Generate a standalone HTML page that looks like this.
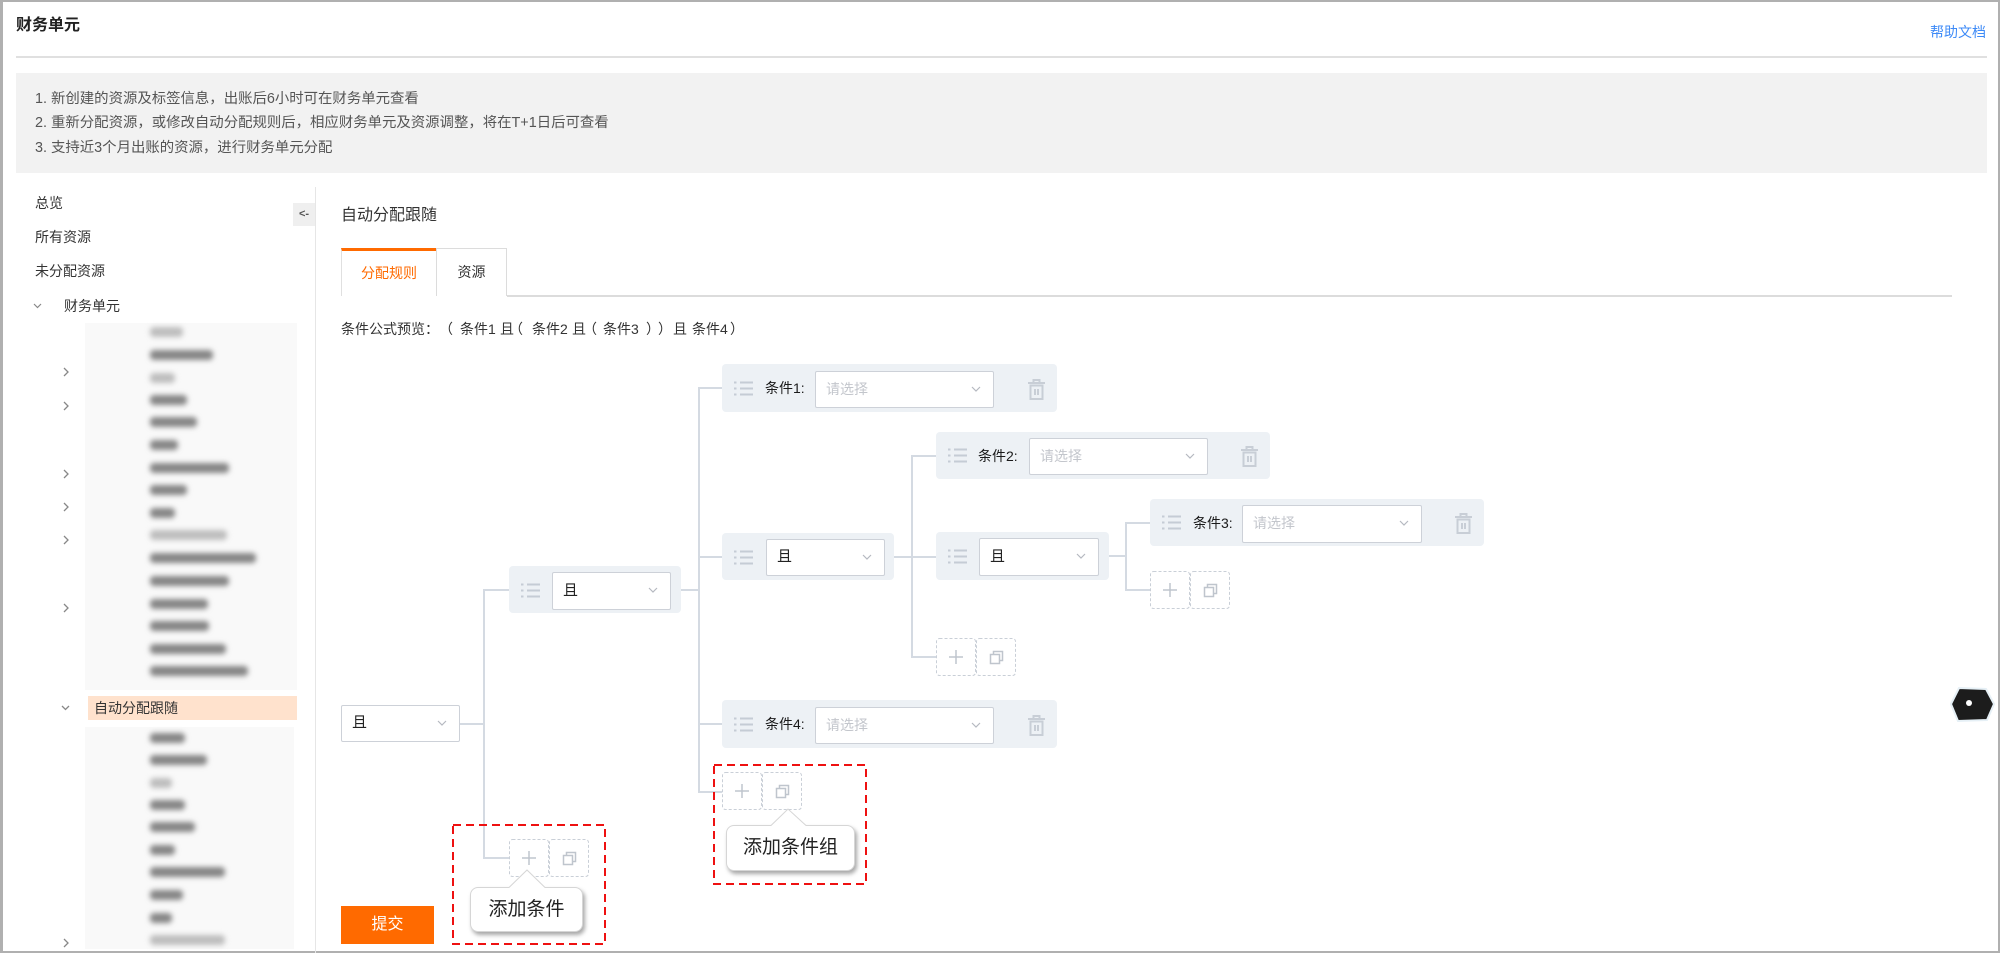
<!DOCTYPE html>
<html><head><meta charset="utf-8">
<style>
body{margin:0;width:2000px;height:953px;position:relative;overflow:hidden;background:#fff;font-family:"Liberation Sans","Noto Sans CJK SC",sans-serif;color:#333}
.a{position:absolute}
.t{position:absolute;white-space:nowrap}
.box{position:absolute;background:#edf1f5;border-radius:4px}
.sel{position:absolute;background:#fff;border:1.5px solid #cdd1d8;box-sizing:border-box;border-radius:2px}
.sel .v{position:absolute;right:12px;top:50%;margin-top:-4px}
.ph{position:absolute;left:10px;top:0;font-size:14px;color:#c3c6cc}
.qie{position:absolute;left:10px;top:0;font-size:15px;color:#222}
.lbl{position:absolute;font-size:14px;color:#1a1a1a;white-space:nowrap}
.bl{position:absolute;height:10px;border-radius:4px;background:#858585;filter:blur(2.6px);left:150px}
.bl.l{background:#bdbdbd}
.tip{position:absolute;background:#fff;border:1px solid #d6d6d6;border-radius:8px;box-shadow:2px 3px 4px rgba(0,0,0,.35);font-size:19px;color:#222;text-align:center;box-sizing:border-box}
.pv{position:absolute;top:319px;font-size:14px;line-height:20px;color:#333;white-space:nowrap}
</style></head><body>

<!-- frame -->
<div class="a" style="left:0;top:0;width:2000px;height:953px;box-sizing:border-box;border:2px solid #b0b0b0;border-left-width:3px"></div>

<!-- header -->
<div class="t" style="left:16px;top:15px;font-size:16px;font-weight:bold;color:#222;line-height:22px">财务单元</div>
<div class="t" style="left:1930px;top:22px;font-size:14px;color:#3d8af7;line-height:20px">帮助文档</div>
<div class="a" style="left:16px;top:56px;width:1971px;height:2px;background:#e0e0e0"></div>

<!-- info box -->
<div class="a" style="left:16px;top:73px;width:1971px;height:100px;background:#f2f2f2"></div>
<div class="t" style="left:35px;top:89px;font-size:14.4px;color:#555;line-height:20px">1. 新创建的资源及标签信息，出账后6小时可在财务单元查看</div>
<div class="t" style="left:35px;top:113px;font-size:14.4px;color:#555;line-height:20px">2. 重新分配资源，或修改自动分配规则后，相应财务单元及资源调整，将在T+1日后可查看</div>
<div class="t" style="left:35px;top:138px;font-size:14.4px;color:#555;line-height:20px">3. 支持近3个月出账的资源，进行财务单元分配</div>

<!-- sidebar -->
<div class="t" style="left:35px;top:193px;font-size:14px;line-height:20px">总览</div>
<div class="t" style="left:35px;top:227px;font-size:14px;line-height:20px">所有资源</div>
<div class="t" style="left:35px;top:261px;font-size:14px;line-height:20px">未分配资源</div>
<svg class="a" style="left:33px;top:303px" width="9" height="6"><polyline points="1,1 4.5,4.5 8,1" fill="none" stroke="#888" stroke-width="1.2"/></svg>
<div class="t" style="left:64px;top:296px;font-size:14px;line-height:20px">财务单元</div>
<div class="a" style="left:293px;top:203px;width:22px;height:23px;background:#efefef;font-size:11px;font-weight:bold;line-height:23px;text-align:center;color:#555">&lt;-</div>
<div class="a" style="left:315px;top:187px;width:1px;height:766px;background:#e6e6e6"></div>

<div class="a" style="left:85px;top:323px;width:212px;height:367px;background:#f9f9f9"></div>
<div class="a" style="left:85px;top:727px;width:209px;height:222px;background:#f9f9f9"></div>
<!-- blurred items group1 -->
<div class="bl l" style="top:327px;width:33px"></div>
<div class="bl" style="top:350px;width:63px"></div>
<div class="bl l" style="top:373px;width:25px"></div>
<div class="bl" style="top:395px;width:37px"></div>
<div class="bl" style="top:417px;width:47px"></div>
<div class="bl" style="top:440px;width:28px"></div>
<div class="bl" style="top:463px;width:79px"></div>
<div class="bl" style="top:485px;width:37px"></div>
<div class="bl" style="top:508px;width:25px"></div>
<div class="bl l" style="top:530px;width:77px"></div>
<div class="bl" style="top:553px;width:106px"></div>
<div class="bl" style="top:576px;width:79px"></div>
<div class="bl" style="top:599px;width:58px"></div>
<div class="bl" style="top:621px;width:59px"></div>
<div class="bl" style="top:644px;width:76px"></div>
<div class="bl" style="top:666px;width:98px"></div>
<!-- group2 -->
<div class="bl" style="top:733px;width:35px"></div>
<div class="bl" style="top:755px;width:57px"></div>
<div class="bl l" style="top:778px;width:22px"></div>
<div class="bl" style="top:800px;width:35px"></div>
<div class="bl" style="top:822px;width:45px"></div>
<div class="bl" style="top:845px;width:25px"></div>
<div class="bl" style="top:867px;width:75px"></div>
<div class="bl" style="top:890px;width:33px"></div>
<div class="bl" style="top:913px;width:22px"></div>
<div class="bl l" style="top:935px;width:75px"></div>

<!-- chevrons -->
<svg class="a" style="left:0;top:0" width="100" height="953">
<g fill="none" stroke="#888" stroke-width="1.3">
<polyline points="64,368 68,372 64,376"/>
<polyline points="64,402 68,406 64,410"/>
<polyline points="64,470 68,474 64,478"/>
<polyline points="64,503 68,507 64,511"/>
<polyline points="64,536 68,540 64,544"/>
<polyline points="64,604 68,608 64,612"/>
<polyline points="64,939 68,943 64,947"/>
<polyline points="62,706 65.5,709.5 69,706"/>
</g></svg>

<div class="a" style="left:88px;top:696px;width:209px;height:24px;background:#ffe2cd"></div>
<div class="t" style="left:94px;top:698px;font-size:14px;line-height:20px;color:#333">自动分配跟随</div>

<!-- content header -->
<div class="t" style="left:341px;top:205px;font-size:16px;line-height:22px;color:#333">自动分配跟随</div>
<div class="a" style="left:341px;top:248px;width:96px;height:48px;box-sizing:border-box;border-top:3px solid #ff6a00;border-left:1px solid #e0e0e0;border-right:1px solid #e0e0e0;text-align:center;font-size:14px;line-height:44px;color:#ff6a00">分配规则</div>
<div class="a" style="left:436px;top:248px;width:71px;height:48px;box-sizing:border-box;border:1px solid #dcdcdc;border-bottom:none;text-align:center;font-size:14px;line-height:46px;color:#333">资源</div>
<div class="a" style="left:507px;top:295px;width:1445px;height:1.5px;background:#dcdcdc"></div>

<!-- preview -->
<div class="pv" style="left:341px">条件公式预览：</div>
<div class="pv" style="left:439px">（</div>
<div class="pv" style="left:460px">条件1</div>
<div class="pv" style="left:500px">且</div>
<div class="pv" style="left:509px">（</div>
<div class="pv" style="left:532px">条件2</div>
<div class="pv" style="left:572px">且</div>
<div class="pv" style="left:583px">（</div>
<div class="pv" style="left:603px">条件3</div>
<div class="pv" style="left:646px">）</div>
<div class="pv" style="left:658px">）</div>
<div class="pv" style="left:673px">且</div>
<div class="pv" style="left:692px">条件4</div>
<div class="pv" style="left:730px">）</div>

<!-- connectors -->
<svg class="a" style="left:0;top:0" width="2000" height="953">
<g stroke="#d4dae2" stroke-width="2" fill="none">
<polyline points="460,724 484,724"/>
<polyline points="509,590 484,590 484,858 509,858"/>
<polyline points="681,590 699,590"/>
<polyline points="722,388 699,388 699,792 722,792"/>
<polyline points="699,557 722,557"/>
<polyline points="699,724 722,724"/>
<polyline points="894,557 912,557"/>
<polyline points="936,456 912,456 912,657 936,657"/>
<polyline points="912,557 936,557"/>
<polyline points="1109,556 1126,556"/>
<polyline points="1150,523 1126,523 1126,590 1150,590"/>
</g>
</svg>

<!-- root select -->
<div class="sel" style="left:341px;top:705px;width:119px;height:37px"><div class="qie" style="line-height:34px">且</div><svg class="v" width="10" height="6"><polyline points="1,1 5,5 9,1" fill="none" stroke="#b5b9c0" stroke-width="1.2"/></svg></div>

<!-- L1 group -->
<div class="box" style="left:509px;top:566px;width:172px;height:47px"></div>
<svg class="a" style="left:521px;top:583px" width="19" height="15"><g stroke="#c5ccd5" stroke-width="2"><line x1="0" y1="1.5" x2="2.5" y2="1.5"/><line x1="6" y1="1.5" x2="19" y2="1.5"/><line x1="0" y1="7.5" x2="2.5" y2="7.5"/><line x1="6" y1="7.5" x2="19" y2="7.5"/><line x1="0" y1="13.5" x2="2.5" y2="13.5"/><line x1="6" y1="13.5" x2="19" y2="13.5"/></g></svg>
<div class="sel" style="left:552px;top:572px;width:119px;height:38px"><div class="qie" style="line-height:35px">且</div><svg class="v" width="10" height="6"><polyline points="1,1 5,5 9,1" fill="none" stroke="#b5b9c0" stroke-width="1.2"/></svg></div>

<!-- L2 group -->
<div class="box" style="left:722px;top:533px;width:172px;height:47px"></div>
<svg class="a" style="left:734px;top:550px" width="19" height="15"><g stroke="#c5ccd5" stroke-width="2"><line x1="0" y1="1.5" x2="2.5" y2="1.5"/><line x1="6" y1="1.5" x2="19" y2="1.5"/><line x1="0" y1="7.5" x2="2.5" y2="7.5"/><line x1="6" y1="7.5" x2="19" y2="7.5"/><line x1="0" y1="13.5" x2="2.5" y2="13.5"/><line x1="6" y1="13.5" x2="19" y2="13.5"/></g></svg>
<div class="sel" style="left:766px;top:539px;width:119px;height:37px"><div class="qie" style="line-height:34px">且</div><svg class="v" width="10" height="6"><polyline points="1,1 5,5 9,1" fill="none" stroke="#b5b9c0" stroke-width="1.2"/></svg></div>

<!-- L3 group -->
<div class="box" style="left:936px;top:532px;width:173px;height:48px"></div>
<svg class="a" style="left:948px;top:549px" width="19" height="15"><g stroke="#c5ccd5" stroke-width="2"><line x1="0" y1="1.5" x2="2.5" y2="1.5"/><line x1="6" y1="1.5" x2="19" y2="1.5"/><line x1="0" y1="7.5" x2="2.5" y2="7.5"/><line x1="6" y1="7.5" x2="19" y2="7.5"/><line x1="0" y1="13.5" x2="2.5" y2="13.5"/><line x1="6" y1="13.5" x2="19" y2="13.5"/></g></svg>
<div class="sel" style="left:979px;top:538px;width:120px;height:38px"><div class="qie" style="line-height:35px">且</div><svg class="v" width="10" height="6"><polyline points="1,1 5,5 9,1" fill="none" stroke="#b5b9c0" stroke-width="1.2"/></svg></div>

<!-- 条件1 -->
<div class="box" style="left:722px;top:364px;width:335px;height:48px"></div>
<svg class="a" style="left:734px;top:381px" width="19" height="15"><g stroke="#c5ccd5" stroke-width="2"><line x1="0" y1="1.5" x2="2.5" y2="1.5"/><line x1="6" y1="1.5" x2="19" y2="1.5"/><line x1="0" y1="7.5" x2="2.5" y2="7.5"/><line x1="6" y1="7.5" x2="19" y2="7.5"/><line x1="0" y1="13.5" x2="2.5" y2="13.5"/><line x1="6" y1="13.5" x2="19" y2="13.5"/></g></svg>
<div class="lbl" style="left:765px;top:378px;line-height:20px">条件1:</div>
<div class="sel" style="left:815px;top:371px;width:179px;height:37px"><div class="ph" style="line-height:34px">请选择</div><svg class="v" width="10" height="6"><polyline points="1,1 5,5 9,1" fill="none" stroke="#b5b9c0" stroke-width="1.2"/></svg></div>
<svg class="a" style="left:1028px;top:379px" width="17" height="21"><g stroke="#c8ced6" stroke-width="2" fill="none"><line x1="0" y1="4" x2="17" y2="4"/><polyline points="5.5,4 5.5,1 11.5,1 11.5,4"/><rect x="2.5" y="6.5" width="12" height="13.5"/><line x1="7" y1="10" x2="7" y2="16"/><line x1="10" y1="10" x2="10" y2="16"/></g></svg>

<!-- 条件2 -->
<div class="box" style="left:936px;top:432px;width:334px;height:47px"></div>
<svg class="a" style="left:948px;top:448px" width="19" height="15"><g stroke="#c5ccd5" stroke-width="2"><line x1="0" y1="1.5" x2="2.5" y2="1.5"/><line x1="6" y1="1.5" x2="19" y2="1.5"/><line x1="0" y1="7.5" x2="2.5" y2="7.5"/><line x1="6" y1="7.5" x2="19" y2="7.5"/><line x1="0" y1="13.5" x2="2.5" y2="13.5"/><line x1="6" y1="13.5" x2="19" y2="13.5"/></g></svg>
<div class="lbl" style="left:978px;top:446px;line-height:20px">条件2:</div>
<div class="sel" style="left:1029px;top:438px;width:179px;height:37px"><div class="ph" style="line-height:34px">请选择</div><svg class="v" width="10" height="6"><polyline points="1,1 5,5 9,1" fill="none" stroke="#b5b9c0" stroke-width="1.2"/></svg></div>
<svg class="a" style="left:1241px;top:446px" width="17" height="21"><g stroke="#c8ced6" stroke-width="2" fill="none"><line x1="0" y1="4" x2="17" y2="4"/><polyline points="5.5,4 5.5,1 11.5,1 11.5,4"/><rect x="2.5" y="6.5" width="12" height="13.5"/><line x1="7" y1="10" x2="7" y2="16"/><line x1="10" y1="10" x2="10" y2="16"/></g></svg>

<!-- 条件3 -->
<div class="box" style="left:1150px;top:499px;width:334px;height:47px"></div>
<svg class="a" style="left:1162px;top:515px" width="19" height="15"><g stroke="#c5ccd5" stroke-width="2"><line x1="0" y1="1.5" x2="2.5" y2="1.5"/><line x1="6" y1="1.5" x2="19" y2="1.5"/><line x1="0" y1="7.5" x2="2.5" y2="7.5"/><line x1="6" y1="7.5" x2="19" y2="7.5"/><line x1="0" y1="13.5" x2="2.5" y2="13.5"/><line x1="6" y1="13.5" x2="19" y2="13.5"/></g></svg>
<div class="lbl" style="left:1193px;top:513px;line-height:20px">条件3:</div>
<div class="sel" style="left:1242px;top:505px;width:180px;height:38px"><div class="ph" style="line-height:35px">请选择</div><svg class="v" width="10" height="6"><polyline points="1,1 5,5 9,1" fill="none" stroke="#b5b9c0" stroke-width="1.2"/></svg></div>
<svg class="a" style="left:1455px;top:513px" width="17" height="21"><g stroke="#c8ced6" stroke-width="2" fill="none"><line x1="0" y1="4" x2="17" y2="4"/><polyline points="5.5,4 5.5,1 11.5,1 11.5,4"/><rect x="2.5" y="6.5" width="12" height="13.5"/><line x1="7" y1="10" x2="7" y2="16"/><line x1="10" y1="10" x2="10" y2="16"/></g></svg>

<!-- 条件4 -->
<div class="box" style="left:722px;top:700px;width:335px;height:48px"></div>
<svg class="a" style="left:734px;top:717px" width="19" height="15"><g stroke="#c5ccd5" stroke-width="2"><line x1="0" y1="1.5" x2="2.5" y2="1.5"/><line x1="6" y1="1.5" x2="19" y2="1.5"/><line x1="0" y1="7.5" x2="2.5" y2="7.5"/><line x1="6" y1="7.5" x2="19" y2="7.5"/><line x1="0" y1="13.5" x2="2.5" y2="13.5"/><line x1="6" y1="13.5" x2="19" y2="13.5"/></g></svg>
<div class="lbl" style="left:765px;top:714px;line-height:20px">条件4:</div>
<div class="sel" style="left:815px;top:707px;width:179px;height:37px"><div class="ph" style="line-height:34px">请选择</div><svg class="v" width="10" height="6"><polyline points="1,1 5,5 9,1" fill="none" stroke="#b5b9c0" stroke-width="1.2"/></svg></div>
<svg class="a" style="left:1028px;top:715px" width="17" height="21"><g stroke="#c8ced6" stroke-width="2" fill="none"><line x1="0" y1="4" x2="17" y2="4"/><polyline points="5.5,4 5.5,1 11.5,1 11.5,4"/><rect x="2.5" y="6.5" width="12" height="13.5"/><line x1="7" y1="10" x2="7" y2="16"/><line x1="10" y1="10" x2="10" y2="16"/></g></svg>

<!-- add buttons, red dashed boxes, hexagon -->
<svg class="a" style="left:0;top:0" width="2000" height="953">
<defs>
<g id="addb">
<rect x="0.5" y="0.5" width="39" height="37" rx="3" fill="#fff" stroke="#c9cfd7" stroke-dasharray="3 2"/>
<rect x="40.5" y="0.5" width="39" height="37" rx="3" fill="#fff" stroke="#c9cfd7" stroke-dasharray="3 2"/>
<g stroke="#bfc5cd" stroke-width="1.5" fill="none">
<line x1="13" y1="19" x2="27" y2="19"/><line x1="20" y1="12" x2="20" y2="26"/>
<rect x="54.5" y="16.5" width="9" height="9"/><polyline points="57.5,16.5 57.5,13.5 66.5,13.5 66.5,22.5 63.5,22.5"/>
</g>
</g>
</defs>
<use href="#addb" x="509" y="839"/>
<use href="#addb" x="722" y="772"/>
<use href="#addb" x="936" y="638"/>
<use href="#addb" x="1150" y="571"/>
<rect x="453" y="825" width="152" height="119" fill="none" stroke="#ee1111" stroke-width="2" stroke-dasharray="8 5"/>
<rect x="714" y="765" width="152" height="119" fill="none" stroke="#ee1111" stroke-width="2" stroke-dasharray="8 5"/>
<polygon points="1951,704 1959,688 1986,689 1994,704 1987,720 1958,721" fill="#1c1c1c" stroke="#e6f0f6" stroke-width="2"/>
<circle cx="1969" cy="703" r="3" fill="#fff"/>
</svg>

<!-- tooltips -->
<div class="tip" style="left:470px;top:887px;width:113px;height:45px;line-height:43px">添加条件</div>
<div class="tip" style="left:726px;top:825px;width:129px;height:46px;line-height:44px">添加条件组</div>
<svg class="a" style="left:0;top:0" width="2000" height="953">
<polygon points="509,888 527,870 545,888" fill="#fff"/>
<polyline points="509,887.5 527,870 545,887.5" fill="none" stroke="#d6d6d6" stroke-width="1"/>
<polygon points="771,826 788,809 806,826" fill="#fff"/>
<polyline points="771,825.5 788,809 806,825.5" fill="none" stroke="#d6d6d6" stroke-width="1"/>
</svg>

<!-- submit -->
<div class="a" style="left:341px;top:906px;width:93px;height:38px;background:#ff6a00;color:#fff;font-size:16px;line-height:38px;text-align:center">提交</div>

</body></html>
